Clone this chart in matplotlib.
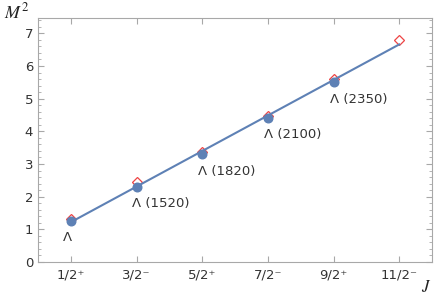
import matplotlib
matplotlib.use("Agg")
import matplotlib.pyplot as plt
from matplotlib.ticker import MultipleLocator

# Data
categories = ["1/2⁺", "3/2⁻", "5/2⁺", "7/2⁻", "9/2⁺", "11/2⁻"]
exp_values = [1.26, 2.31, 3.30, 4.41, 5.50]          # blue points
theory_values = [1.31, 2.44, 3.38, 4.46, 5.60, 6.80]  # red open diamonds
fit_line_values = [1.22, 6.66]                        # fitted line at first and last J
state_labels = ["Λ", "Λ (1520)", "Λ (1820)", "Λ (2100)", "Λ (2350)"]

blue = "#5E81B5"
red = "#EE4444"
gray = "#A8A8A8"

plt.rcParams["mathtext.fontset"] = "stix"

fig = plt.figure(figsize=(4.36, 2.96), dpi=100)
ax = fig.add_axes([38/436, 1-262/296, (432-38)/436, (262-18)/296])

xpos = list(range(1, len(categories) + 1))

ax.plot(xpos, theory_values, linestyle="none", marker="D", markersize=5.5,
        markerfacecolor="white", markeredgecolor=red, markeredgewidth=0.9, zorder=2)
ax.plot([xpos[0], xpos[-1]], fit_line_values, color=blue, lw=1.5, zorder=3)
ax.plot(xpos[:len(exp_values)], exp_values, linestyle="none", marker="o",
        markersize=6.2, color=blue, zorder=4)

px = 0.72
for i, (lab, v) in enumerate(zip(state_labels, exp_values)):
    dx = -8 if i == 0 else -4
    ax.annotate(lab, (xpos[i], v), xytext=(dx*px, -17*px), textcoords="offset points",
                ha="left", va="center", fontsize=9.5, color="#333333")

ax.set_xlim(0.5, 6.5)
ax.set_ylim(0, 7.47)
ax.set_xticks(xpos)
ax.set_xticklabels(categories)
ax.yaxis.set_major_locator(MultipleLocator(1))
ax.yaxis.set_minor_locator(MultipleLocator(0.2))

for s in ax.spines.values():
    s.set_color(gray)
    s.set_linewidth(0.8)

ax.tick_params(axis="both", which="both", direction="in", color=gray,
               labelcolor="#333333", labelsize=9.5)
ax.tick_params(axis="y", which="major", length=4, width=0.8, left=True, right=True)
ax.tick_params(axis="y", which="minor", length=2, width=0.6, left=True, right=True)
ax.tick_params(axis="x", which="major", length=4, width=0.8, top=True, bottom=True, pad=5)
ax.tick_params(axis="x", which="minor", bottom=False, top=False)

fig.text(4/436, 1-12/296, r"$M^2$", fontsize=13, color="#222222", va="center", ha="left")
fig.text(426/436, 1-287/296, r"$J$", fontsize=12, color="#222222", va="center", ha="center")

fig.savefig("out.png", dpi=100)
